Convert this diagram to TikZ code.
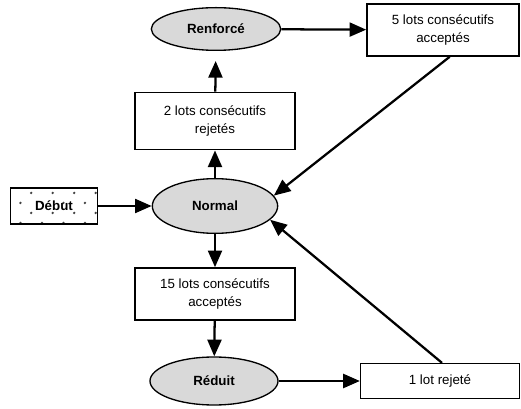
\documentclass[tikz,border=0pt]{standalone}
\usepackage{fontspec}
\setmainfont{Liberation Sans}
\usetikzlibrary{shapes.geometric, arrows.meta}

\begin{document}
\begin{tikzpicture}[x=0.75pt, y=-0.75pt,
    etat/.style={ellipse, draw, line width=1pt, fill=gray!30, inner sep=0pt,
        font=\bfseries},
    regle/.style={rectangle, draw, line width=1.2pt, fill=white, inner sep=0pt,
        align=center, font=\fontsize{10}{13}\selectfont},
    pointille/.style={path picture={
        \foreach \i in {0,...,3} {
            \foreach \j in {0,...,4} {
                \fill [gray!50!black]
                    ([shift={({9.75+10.75*mod(\i+1,2)+21.5*\j},{5+10*\i})}]path picture bounding box.north west)
                    circle (1pt);
            }
        }}},
    fleche/.style={line width=1.7pt, -{Triangle[length=12.5pt, width=10.5pt]}}
        ]

    \path [use as bounding box] (0,0) rectangle (521,409);

    % etats
    \node [etat, minimum width=97pt, minimum height=32pt] (renforce) at (216,29) {Renforcé};
    \node [etat, minimum width=94pt, minimum height=41pt] (normal) at (215,206) {Normal};
    \node [etat, minimum width=96pt, minimum height=36pt] (reduit) at (214,381) {Réduit};

    % regles de passage
    \node [regle, minimum width=120pt, minimum height=43pt] (deuxrej) at (215,121)
        {2 lots consécutifs\\rejetés};
    \node [regle, minimum width=120pt, minimum height=39pt] (quinzeacc) at (215,294)
        {15 lots consécutifs\\acceptés};
    \node [regle, minimum width=114pt, minimum height=39pt] (cinqacc) at (443,30)
        {5 lots consécutifs\\acceptés};
    \node [regle, minimum width=119pt, minimum height=26pt] (unrej) at (440,381)
        {1 lot rejeté};

    \node [regle, pointille, minimum width=65pt, minimum height=27pt, font=\bfseries]
        (debut) at (54,206) {Début};

    \draw [fleche] (debut) -- (normal);
    \draw [fleche] (normal) -- (deuxrej);
    \draw [fleche, shorten >=7.5pt] (deuxrej) -- (renforce);
    \draw [fleche] (renforce) -- (cinqacc);
    \draw [fleche] ([xshift=5pt]cinqacc.south) -- (normal.10);
    \draw [fleche] (normal) -- (quinzeacc);
    \draw [fleche] (quinzeacc) -- (reduit);
    \draw [fleche] (reduit) -- (unrej);
    \draw [fleche] ([xshift=1.5pt]unrej.north) -- (normal.-14);

\end{tikzpicture}
\end{document}
